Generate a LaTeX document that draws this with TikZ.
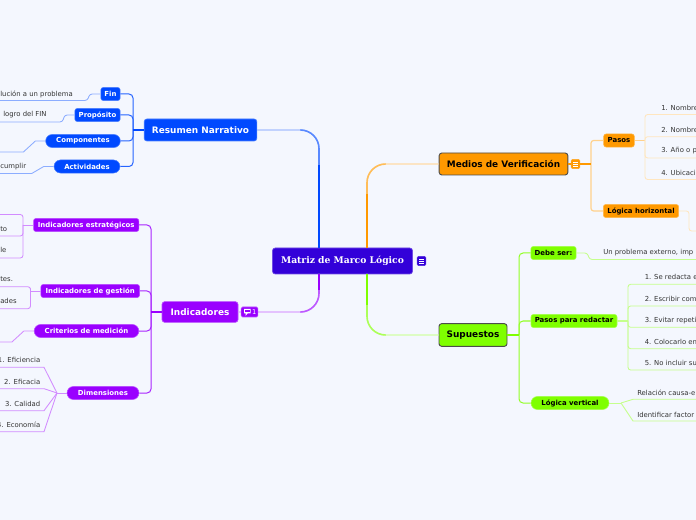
\documentclass[tikz,border=0pt]{standalone}
\usepackage{fontspec}
\setmainfont{DejaVu Sans}
\newfontfamily\titlefont{DejaVu Serif}
\usepackage{tikz}
\usepackage{xcolor}
\usetikzlibrary{positioning,calc,shapes}
\definecolor{mapBack}{HTML}{F4F7FE}
\definecolor{mapRoot}{HTML}{3300D9}
\definecolor{mapBlue}{HTML}{0049FF}
\definecolor{mapPurple}{HTML}{9A00FF}
\definecolor{mapOrange}{HTML}{FF9900}
\definecolor{mapGreen}{HTML}{7FFF00}
\definecolor{mapText}{HTML}{333333}
\tikzset{
    mainBox/.style={
        rectangle,
        draw=#1!70!white,
        fill=#1,
        rounded corners=2pt,
        inner sep=0pt,
        line width=0.5pt,
        text=white,
        font=\fontsize{6.7}{9}\selectfont\bfseries
    },
    darkBox/.style={
        mainBox=#1,
        draw=black!70,
        line width=0.7pt,
        text=black
    },
    subBox/.style={
        rectangle,
        draw=#1!70!white,
        fill=#1,
        rounded corners=1.8pt,
        inner sep=0pt,
        line width=0.4pt,
        minimum height=9.8pt,
        text=white,
        font=\fontsize{5.2}{7}\selectfont\bfseries
    },
    subPill/.style={subBox=#1, rounded corners=4.9pt},
    leafText/.style={
        inner sep=0pt,
        text=mapText,
        font=\fontsize{5.15}{7}\selectfont
    },
    noteIcon/.style={
        rectangle,
        draw=#1!85!white,
        fill=#1,
        rounded corners=1pt,
        inner sep=0pt,
        line width=0.3pt,
        minimum width=6.6pt,
        minimum height=7pt,
        path picture={
            \foreach \dy in {-2.2,0,2.2}
                \draw[white, line width=0.4pt]
                    ($(path picture bounding box.center)+(-2.2,\dy)$) -- ++(4.4,0);
        }
    },
    % Branch lines
    bendThin/.style={draw=#1!35!white, line width=0.8pt, rounded corners=14pt},
    bendMid/.style={draw=#1!65!white, line width=1.2pt, rounded corners=14pt},
    bendThick/.style={draw=#1, line width=1.7pt},
    hubLine/.style={draw=#1!85!white, line width=0.75pt, rounded corners=3pt},
    leafLine/.style={draw=#1!45!white, line width=0.65pt, rounded corners=2pt}
}
\begin{document}
\begin{tikzpicture}[x=0.75pt, y=-0.75pt]
\useasboundingbox (0,0) rectangle (696,520);
\fill[mapBack] (0,0) rectangle (696,520);
\clip (0,0) rectangle (696,520);

% Anchors on the root
\coordinate (rootNW) at (319,248);
\coordinate (rootSW) at (319,274);
\coordinate (rootNE) at (367,248);
\coordinate (rootSE) at (367,274);

% Root and main topics
\node[mainBox=mapRoot, minimum width=105pt, minimum height=19.5pt, font=\titlefont\fontsize{6.9}{9}\selectfont\bfseries] (root) at (342.5,261) {Matriz de Marco Lógico};
\node[mainBox=mapBlue, minimum width=84.5pt, minimum height=16.5pt] (resumen) at (200.5,130) {Resumen Narrativo};
\node[mainBox=mapPurple, minimum width=57pt, minimum height=15.5pt] (indicadores) at (200,312) {Indicadores};
\node[darkBox=mapOrange, minimum width=96.5pt, minimum height=16.5pt] (medios) at (503.5,164) {Medios de Verificación};
\node[darkBox=mapGreen, minimum width=51pt, minimum height=17pt] (supuestos) at (473,335) {Supuestos};

% Sub topics
\node[subBox=mapBlue, minimum width=14.5pt] (fin) at (110.5,94) {Fin};
\node[subBox=mapBlue, minimum width=34pt] (proposito) at (97.5,115) {Propósito};
\node[subPill=mapBlue, minimum width=56pt] (componentes) at (83,141) {Componentes};
\node[subPill=mapBlue, minimum width=49.5pt] (actividades) at (87,166.5) {Actividades};
\node[subBox=mapPurple, minimum width=79pt] (estrategicos) at (86.2,225) {Indicadores estratégicos};
\node[subBox=mapPurple, minimum width=74pt] (gestion) at (90.2,291) {Indicadores de gestión};
\node[subPill=mapPurple, minimum width=78.5pt] (criterios) at (86.5,331) {Criterios de medición};
\node[subPill=mapPurple, minimum width=54pt] (dimensiones) at (103,393) {Dimensiones};
\node[subBox=mapOrange, minimum width=23pt, text=black] (pasos) at (619,140.5) {Pasos};
\node[subBox=mapOrange, minimum width=56.5pt, text=black] (horizontal) at (641,211) {Lógica horizontal};
\node[subBox=mapGreen, minimum width=34pt, text=black] (debe) at (553.5,253) {Debe ser:};
\node[subBox=mapGreen, minimum width=64.5pt, text=black] (redactar) at (574,321) {Pasos para redactar};
\node[subPill=mapGreen, minimum width=58.5pt, text=black] (vertical) at (570,403) {Lógica vertical};

% Hubs
\coordinate (hubBlue) at (133,130);
\coordinate (hubPurple) at (151,312);
\coordinate (hubOrange) at (591,164);
\coordinate (hubGreen) at (519,335);
\coordinate (hubPasos) at (645,140.5);
\coordinate (hubRedactar) at (628,321);
\coordinate (hubDim) at (57,393);
\coordinate (hubVertical) at (621,403);

% Branches from the root
\draw[bendThin=mapBlue] (resumen.east) -| (rootNW);
\draw[bendMid=mapBlue] ($(resumen.east -| rootNW)+(-18,0)$) -| (rootNW);
\draw[bendThick=mapBlue] ($(resumen.east -| rootNW)+(0,35)$) -- (rootNW);
\draw[bendThin=mapPurple] (indicadores.east) -| (rootSW);
\draw[bendMid=mapPurple] ($(indicadores.east -| rootSW)+(-18,0)$) -| (rootSW);
\draw[bendThick=mapPurple] ($(indicadores.east -| rootSW)+(0,-22)$) -- (rootSW);
\draw[bendThin=mapOrange] (medios.west) -| (rootNE);
\draw[bendMid=mapOrange] ($(medios.west -| rootNE)+(18,0)$) -| (rootNE);
\draw[bendThick=mapOrange] ($(medios.west -| rootNE)+(0,30)$) -- (rootNE);
\draw[bendThin=mapGreen] (supuestos.west) -| (rootSE);
\draw[bendMid=mapGreen] ($(supuestos.west -| rootSE)+(18,0)$) -| (rootSE);
\draw[bendThick=mapGreen] ($(supuestos.west -| rootSE)+(0,-30)$) -- (rootSE);

% Brackets to the sub topics
\draw[hubLine=mapBlue] (fin.east) -| (hubBlue) |- (actividades.east);
\draw[hubLine=mapBlue] (proposito.east) -| (hubBlue);
\draw[hubLine=mapBlue] (componentes.east) -| (hubBlue);
\draw[draw=mapBlue, line width=1.1pt] (resumen.west) -- (hubBlue);
\draw[hubLine=mapPurple] (estrategicos.east) -| (hubPurple) |- (dimensiones.east);
\draw[hubLine=mapPurple] (gestion.east) -| (hubPurple);
\draw[hubLine=mapPurple] (criterios.east) -| (hubPurple);
\draw[draw=mapPurple, line width=1.1pt] (indicadores.west) -- (hubPurple);
\draw[leafLine=mapOrange, line width=0.9pt] (pasos.west) -| (hubOrange) |- (horizontal.west);
\draw[draw=mapOrange, line width=0.9pt] (medios.east) -- (hubOrange);
\draw[hubLine=mapGreen] (debe.west) -| (hubGreen) |- (vertical.west);
\draw[hubLine=mapGreen] (redactar.west) -| (hubGreen);
\draw[draw=mapGreen, line width=1.1pt] (supuestos.east) -- (hubGreen);

% Leaves, left side
\node[leafText, anchor=west] (fintxt) at (0,94) {lución a un problema};
\coordinate (finEnd) at (0,100.5);
\draw[leafLine=mapBlue] (fin.west) -- ++(-11,0) -- ++(-2,6.5) -- (finEnd);
\node[leafText, anchor=west] (proptxt) at (3,115) {logro del FIN};
\coordinate (propEnd) at (0,122);
\draw[leafLine=mapBlue] (proposito.west) -- ++(-10,0) -- ++(-2,7) -- (propEnd);
\coordinate (compEnd) at (0,152);
\draw[leafLine=mapBlue, rounded corners=0pt] (componentes.west) -- ++(-10,0) -- ++(-12,11) -- (compEnd);
\node[leafText, anchor=west] (acttxt) at (0,167) {cumplir};
\coordinate (actEnd) at (0,173.5);
\draw[leafLine=mapBlue, rounded corners=0pt] (actividades.west) -- ++(-10,0) -- ++(-12,7) -- (actEnd);

\node[leafText, anchor=west] (esttxtA) at (0,229) {to};
\node[leafText, anchor=west] (esttxtB) at (0,250) {le};
\coordinate (estHub) at (23,225);
\coordinate (estTop) at (0,214.5);
\coordinate (estMid) at (0,236);
\coordinate (estBot) at (0,258);
\draw[leafLine=mapPurple] (estrategicos.west) -- (estHub);
\draw[leafLine=mapPurple] (estTop) -| (estHub) |- (estBot);
\draw[leafLine=mapPurple] (estHub) |- (estMid);

\node[leafText, anchor=west] (gestxtA) at (0,279.5) {tes.};
\node[leafText, anchor=west] (gestxtB) at (0,301) {ades};
\coordinate (gesHub) at (30.5,291);
\coordinate (gesTop) at (0,286.7);
\coordinate (gesBot) at (0,308.7);
\draw[leafLine=mapPurple] (gestion.west) -- (gesHub);
\draw[leafLine=mapPurple] (gesTop) -| (gesHub) |- (gesBot);

\coordinate (criEnd) at (0,342);
\draw[leafLine=mapPurple, rounded corners=0pt] (criterios.west) -- ++(-10,0) -- ++(-12,11) -- (criEnd);

\draw[leafLine=mapPurple] (dimensiones.west) -- (hubDim);
\foreach \dimname/\ypos/\dimtxt in {dimA/367.3/1. Eficiencia, dimB/388.7/2. Eficacia, dimC/410.7/3. Calidad, dimD/431.7/4. Economía}{
    \node[leafText, anchor=east] (\dimname) at (40.5,\ypos-7) {\dimtxt};
    \coordinate (\dimname End) at (0,\ypos);
    \draw[leafLine=mapPurple, rounded corners=0pt] (hubDim) -- (44,\ypos) -- (\dimname End);
}

% Leaves, right side
\foreach \pasoname/\ypos/\pasotxt in {pasoA/114.5/1. Nombre, pasoB/136.7/2. Nombre, pasoC/158/3. Año o p, pasoD/179.5/4. Ubicaci}{
    \node[leafText, anchor=west] (\pasoname) at (661,\ypos-7) {\pasotxt};
    \coordinate (\pasoname End) at (696,\ypos);
}
\draw[leafLine=mapOrange] (pasos.east) -- (hubPasos);
\draw[leafLine=mapOrange, draw=mapOrange!25!white] (pasoAEnd) -| (hubPasos) |- (pasoDEnd);
\draw[leafLine=mapOrange, draw=mapOrange!25!white] (hubPasos) |- (pasoBEnd);
\draw[leafLine=mapOrange, draw=mapOrange!25!white] (hubPasos) |- (pasoCEnd);
\coordinate (horizEnd) at (696,231);
\draw[leafLine=mapOrange, draw=mapOrange!25!white] (horizontal.east) -| (689,220) |- (horizEnd);

\node[leafText, anchor=west] (debetxt) at (603,252.5) {Un problema externo, imp};
\coordinate (debeEnd) at (696,259.5);
\draw[leafLine=mapGreen] (debe.east) -- ++(11,0) -- ++(2,6.5) -- (debeEnd);

\foreach \redname/\ypos/\redtxt in {redA/284.3/1. Se redacta e, redB/306/2. Escribir com, redC/327.3/3. Evitar repeti, redD/348.7/4. Colocarlo en, redE/370/5. No incluir su}{
    \node[leafText, anchor=west] (\redname) at (644.5,\ypos-7) {\redtxt};
    \coordinate (\redname End) at (696,\ypos);
}
\draw[leafLine=mapGreen, line width=1pt, rounded corners=0pt] (redactar.east) -- (hubRedactar);
\draw[leafLine=mapGreen] (redAEnd) -| (hubRedactar) |- (redEEnd);
\draw[leafLine=mapGreen] (hubRedactar) |- (redBEnd);
\draw[leafLine=mapGreen] (hubRedactar) |- (redCEnd);
\draw[leafLine=mapGreen] (hubRedactar) |- (redDEnd);

\node[leafText, anchor=west] (relacion) at (637,392.5) {Relación causa-e};
\node[leafText, anchor=west] (factor) at (637,414.5) {Identificar factor};
\coordinate (relEnd) at (696,399.3);
\coordinate (facEnd) at (696,421);
\draw[leafLine=mapGreen] (vertical.east) -- (hubVertical);
\draw[leafLine=mapGreen, rounded corners=0pt] (hubVertical) -- (633,399.3) -- (relEnd);
\draw[leafLine=mapGreen, rounded corners=0pt] (hubVertical) -- (633,421) -- (facEnd);

% Icons
\node[noteIcon=mapRoot] (rootnote) at (421.5,261) {};
\node[noteIcon=mapOrange] (mediosnote) at (575.5,164) {};
\node[subBox=mapPurple, rounded corners=1pt, minimum width=12.5pt, minimum height=7.5pt, font=\fontsize{5}{6}\selectfont, align=right] (comment) at (249.5,312) {\hspace*{7pt}1};
\fill[white] (244,309) rectangle (250.5,313.5) (245.5,313.5) -- (247.5,313.5) -- (245.5,316) -- cycle;
\fill[mapPurple] (245,310.2) rectangle (249.5,312.3);
\end{tikzpicture}
\end{document}
